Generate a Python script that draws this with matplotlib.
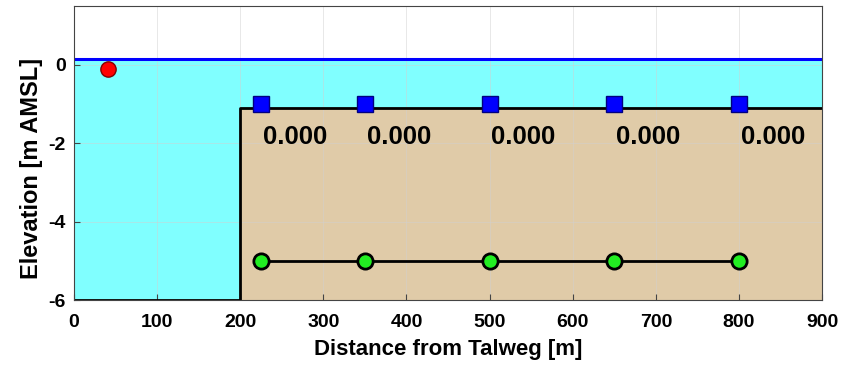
import numpy as np
import matplotlib.pyplot as plt

plt.rcParams['font.family'] = ['Liberation Sans', 'DejaVu Sans']
plt.rcParams['font.weight'] = 'bold'
plt.rcParams['axes.unicode_minus'] = False

# profile data
ground_x = [0, 200, 200, 900]
ground_y = [-6, -6, -1.1, -1.1]
water_level = 0.15
red_x = [41]
red_y = [-0.1]
sq_x = [225, 350, 500, 650, 800]
sq_y = [-1.0, -1.0, -1.0, -1.0, -1.0]
sq_labels = ['0.000', '0.000', '0.000', '0.000', '0.000']
gr_x = [225, 350, 500, 650, 800]
gr_y = [-5, -5, -5, -5, -5]

fig = plt.figure(figsize=(8.57, 3.66), dpi=100)
ax = fig.add_axes([0.0863, 0.180, 0.873, 0.804])

ax.set_xlim(0, 900)
ax.set_ylim(-6, 1.5)

# water
ax.fill_between([0, 900], [-6, -6], [water_level, water_level], color='#80ffff', zorder=1)
ax.plot([0, 900], [water_level, water_level], color='#0000ff', lw=2.2, zorder=3)
# ground
ax.fill_between(ground_x, -6, ground_y, color='#e0cba8', zorder=2)
ax.plot(ground_x, ground_y, color='black', lw=2, zorder=3)

ax.plot(red_x, red_y, 'o', ms=11, mfc='red', mec='#800000', mew=1, zorder=5)
ax.plot(sq_x, sq_y, 's', ms=11, mfc='#0000ff', mec='#000080', mew=1, zorder=5)
for x, lab in zip(sq_x, sq_labels):
    ax.text(x + 2, -1.85, lab, fontsize=18.5, fontweight='bold', ha='left', va='center', zorder=6)
ax.plot(gr_x, gr_y, '-o', color='black', lw=2, ms=11, mfc='#22ee22', mec='black', mew=2, zorder=5)

ax.set_xticks(np.arange(0, 901, 100))
ax.set_yticks([-6, -4, -2, 0])
ax.grid(True, color='#d0d0d0', lw=0.7, zorder=0)
ax.set_axisbelow(False)
for gl in ax.get_xgridlines() + ax.get_ygridlines():
    gl.set_zorder(2.5)
    gl.set_alpha(0.5)
ax.tick_params(direction='in', labelsize=14, length=4, color='#444444')
ax.tick_params(axis='x', pad=10)
ax.tick_params(axis='y', pad=6)
for s in ax.spines.values():
    s.set_color('#444444')
    s.set_zorder(7)
ax.set_xlabel('Distance from Talweg [m]', fontsize=16, fontweight='bold', labelpad=6)
ax.set_ylabel('Elevation [m AMSL]', fontsize=17, fontweight='bold')
ax.yaxis.set_label_coords(-0.041, 0.449)

fig.savefig('out.png', dpi=100)
